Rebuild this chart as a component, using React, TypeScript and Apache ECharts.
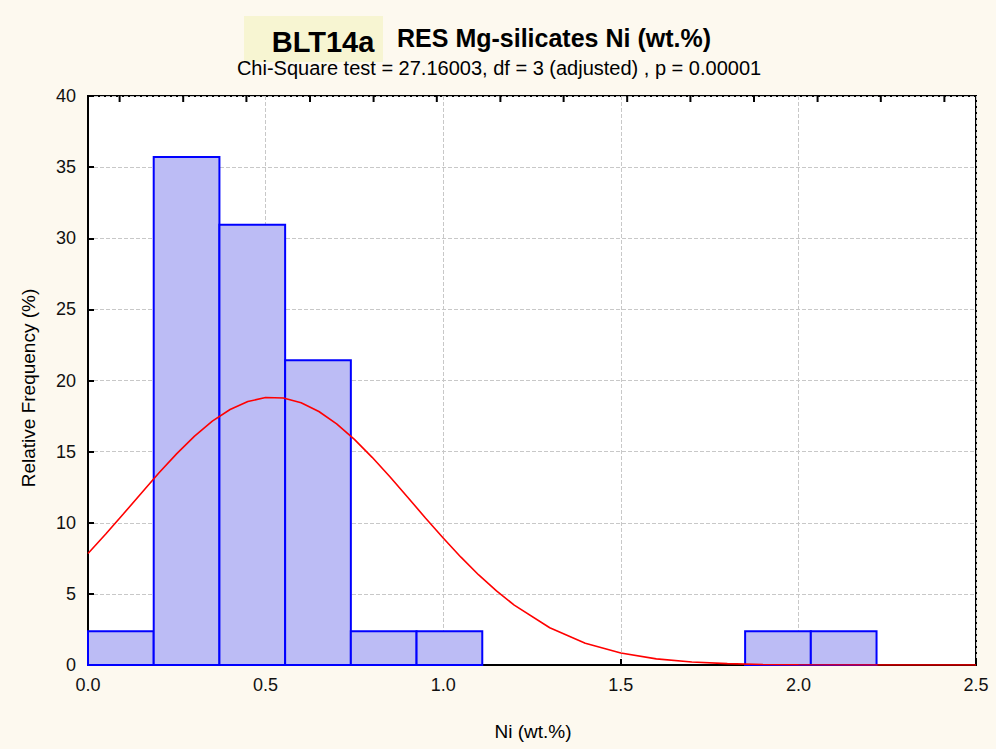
import React, { useEffect, useRef } from "react";
import * as echarts from "echarts";

const binEdges = [0, 0.185, 0.37, 0.555, 0.74, 0.925, 1.11, 1.295, 1.48, 1.665, 1.85, 2.035, 2.22];
const binFreq = [2.38, 35.71, 30.95, 21.43, 2.38, 2.38, 0, 0, 0, 0, 2.38, 2.38];

const curveX = [0, 0.05, 0.1, 0.15, 0.2, 0.25, 0.3, 0.35, 0.4, 0.45, 0.5, 0.55, 0.6, 0.65, 0.7, 0.75, 0.8, 0.85, 0.9, 0.95, 1.0, 1.05, 1.1, 1.15, 1.2, 1.3, 1.4, 1.5, 1.6, 1.7, 1.8, 1.9, 2.0, 2.2, 2.5];
const curveY = [7.84, 9.21, 10.63, 12.08, 13.51, 14.86, 16.09, 17.14, 17.96, 18.52, 18.8, 18.77, 18.43, 17.82, 16.95, 15.86, 14.6, 13.23, 11.79, 10.34, 8.93, 7.58, 6.33, 5.21, 4.21, 2.62, 1.53, 0.84, 0.43, 0.21, 0.094, 0.04, 0.015, 0.002, 0];

const yTicks = [0, 5, 10, 15, 20, 25, 30, 35, 40];
const xTicks = [0, 0.5, 1.0, 1.5, 2.0, 2.5];
const topTickPositions = [0.089, 0.268, 0.446, 0.625, 0.804, 0.982, 1.161, 1.339, 1.518, 1.696, 1.875, 2.054, 2.232, 2.411];

const FONT = "'Liberation Sans', Arial, sans-serif";

export default function App() {
  const ref = useRef<HTMLDivElement>(null);
  useEffect(() => {
    if (!ref.current) return;
    const chart = echarts.init(ref.current, undefined, { renderer: "svg" });
    const barData = binFreq
      .map((f, i) => [binEdges[i], binEdges[i + 1], f])
      .filter((d) => d[2] > 0);
    const curveData = curveX.map((x, i) => [x, curveY[i]]);
    const yMax = yTicks[yTicks.length - 1];
    chart.setOption({
      animation: false,
      backgroundColor: "#fdf9ef",
      textStyle: { fontFamily: FONT },
      grid: {
        left: 88,
        right: 20,
        top: 96,
        bottom: 84,
        show: true,
        backgroundColor: "#ffffff",
        borderColor: "#000",
        borderWidth: 2,
      },
      xAxis: {
        type: "value",
        min: xTicks[0],
        max: xTicks[xTicks.length - 1],
        interval: 0.5,
        position: "bottom",
        axisLine: { show: true, onZero: false, lineStyle: { color: "#000", width: 2 } },
        axisTick: { show: true, inside: true, length: 6, lineStyle: { color: "#000", width: 2 } },
        axisLabel: {
          fontSize: 18,
          color: "#111",
          margin: 11,
          fontFamily: FONT,
          formatter: (v: number) => v.toFixed(1),
        },
        splitLine: { show: true, lineStyle: { color: "#c8c8c8", type: "dashed", width: 1 } },
      },
      yAxis: {
        type: "value",
        min: yTicks[0],
        max: yMax,
        interval: 5,
        axisLine: { show: true, onZero: false, lineStyle: { color: "#000", width: 2 } },
        axisTick: { show: true, inside: true, length: 6, lineStyle: { color: "#000", width: 2 } },
        axisLabel: { fontSize: 18, color: "#111", margin: 12, fontFamily: FONT },
        splitLine: { show: true, lineStyle: { color: "#c8c8c8", type: "dashed", width: 1 } },
      },
      series: [
        {
          type: "custom",
          data: barData,
          encode: { x: [0, 1], y: 2 },
          renderItem: (_params: any, api: any) => {
            const p0 = api.coord([api.value(0), api.value(2)]);
            const p1 = api.coord([api.value(1), 0]);
            return {
              type: "rect",
              shape: { x: p0[0], y: p0[1], width: p1[0] - p0[0], height: p1[1] - p0[1] },
              style: { fill: "#bcbcf5", stroke: "#0000ff", lineWidth: 2 },
            };
          },
          z: 2,
        },
        {
          type: "line",
          data: curveData,
          smooth: false,
          showSymbol: false,
          symbol: "none",
          lineStyle: { color: "#ff0000", width: 1.6 },
          z: 3,
        },
        {
          type: "custom",
          silent: true,
          clip: false,
          data: topTickPositions.map((x) => [x, yMax]),
          encode: { x: 0, y: 1 },
          renderItem: (_params: any, api: any) => {
            const p = api.coord([api.value(0), api.value(1)]);
            return {
              type: "line",
              shape: { x1: p[0], y1: p[1], x2: p[0], y2: p[1] + 6 },
              style: { stroke: "#000", lineWidth: 2 },
            };
          },
          z: 4,
        },
      ],
      graphic: [
        {
          type: "rect",
          shape: { x: 244, y: 16, width: 139, height: 46 },
          style: { fill: "#f7f5d2" },
        },
        {
          type: "text",
          x: 323,
          y: 42,
          style: {
            text: "BLT14a",
            font: `bold 29px ${FONT}`,
            fill: "#000",
            align: "center",
            verticalAlign: "middle",
          },
        },
        {
          type: "text",
          x: 554,
          y: 38,
          style: {
            text: "RES Mg-silicates Ni (wt.%)",
            font: `bold 25px ${FONT}`,
            fill: "#000",
            align: "center",
            verticalAlign: "middle",
          },
        },
        {
          type: "text",
          x: 499,
          y: 68,
          style: {
            text: "Chi-Square test = 27.16003, df = 3 (adjusted) , p = 0.00001",
            font: `20px ${FONT}`,
            fill: "#000",
            align: "center",
            verticalAlign: "middle",
          },
        },
        {
          type: "text",
          x: 28,
          y: 388,
          rotation: Math.PI / 2,
          style: {
            text: "Relative Frequency (%)",
            font: `19px ${FONT}`,
            fill: "#000",
            align: "center",
            verticalAlign: "middle",
          },
        },
        {
          type: "text",
          x: 533,
          y: 731,
          style: {
            text: "Ni (wt.%)",
            font: `19px ${FONT}`,
            fill: "#000",
            align: "center",
            verticalAlign: "middle",
          },
        },
      ],
    });
    return () => chart.dispose();
  }, []);
  return (
    <div
      ref={ref}
      style={{ position: "fixed", left: 0, top: 0, width: 996, height: 749 }}
    />
  );
}
